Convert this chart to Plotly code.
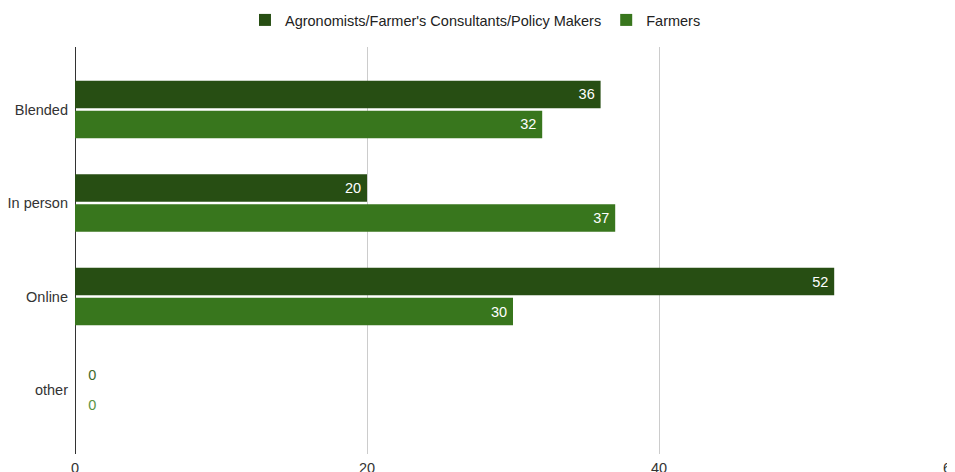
import plotly.graph_objects as go

categories = ["Blended", "In person", "Online", "other"]
series_names = ["Agronomists/Farmer's Consultants/Policy Makers", "Farmers"]
agronomists = [36, 20, 52, 0]
farmers = [32, 37, 30, 0]
x_ticks = [0, 20, 40, 60]

colors = ["#274e13", "#38761d"]
zero_colors = ["#3f6b2c", "#5b9443"]

FS = 14.5

fig = go.Figure()
for name, vals, col, zc in zip(series_names, [agronomists, farmers], colors, zero_colors):
    fig.add_trace(go.Bar(
        y=categories, x=vals, name=name, orientation="h",
        marker=dict(color=col, line=dict(width=0)),
        text=[str(v) + "\u2009" if v != 0 else "\u2002\u20090" for v in vals],
        textposition=["inside" if v != 0 else "outside" for v in vals],
        insidetextanchor="end",
        insidetextfont=dict(color="white", size=FS, family="Arial"),
        outsidetextfont=dict(color=zc, size=FS, family="Arial"),
        cliponaxis=False,
        hoverinfo="skip",
    ))

# The page adds an 8px body margin, so margins are reduced by 8px to compensate
fig.update_layout(
    width=955, height=472,
    margin=dict(l=67, r=12, t=39, b=26, autoexpand=False),
    paper_bgcolor="white", plot_bgcolor="white",
    barmode="group", bargap=0.358, bargroupgap=0.083,
    font=dict(family="Arial", size=FS, color="#333"),
    legend=dict(orientation="h", x=0.4895, xanchor="center", xref="container",
                y=0.9746, yanchor="middle", yref="container",
                font=dict(size=FS, color="#222")),
    showlegend=True,
)
fig.update_xaxes(range=[0, 60], tickvals=x_ticks, ticktext=[str(t) for t in x_ticks],
                 showgrid=True, gridcolor="#cccccc", gridwidth=1,
                 zeroline=True, zerolinecolor="#333333", zerolinewidth=1,
                 ticks="", showline=False, fixedrange=True, ticklabelstandoff=3,
                 tickfont=dict(size=FS, color="#333"))
fig.update_yaxes(categoryorder="array", categoryarray=categories,
                 range=[3.684, -0.668], showgrid=False, zeroline=False,
                 ticks="", ticklabelstandoff=6, showline=False,
                 tickfont=dict(size=FS, color="#333"))

fig.write_html("out.html")
